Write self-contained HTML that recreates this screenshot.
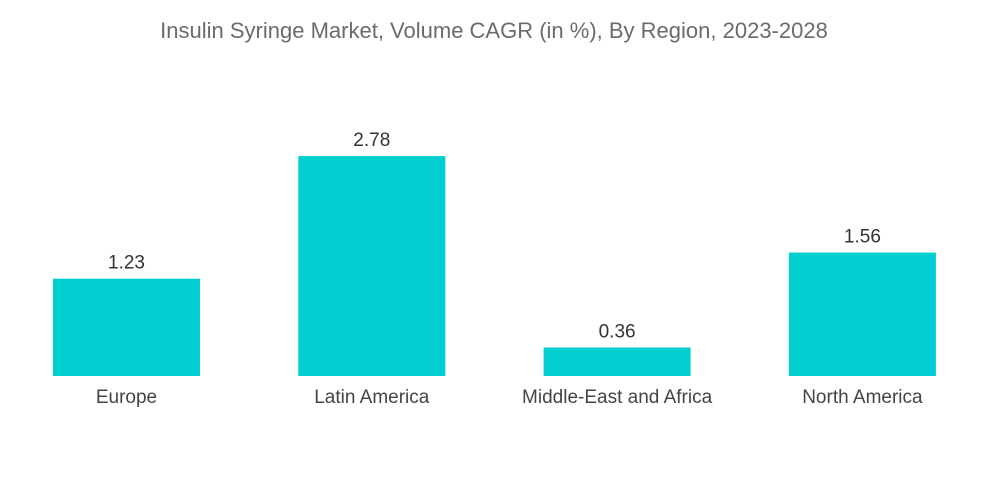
<!DOCTYPE html>
<html><head><meta charset="utf-8"><style>
html,body{margin:0;padding:0;background:#fff;}
svg{display:block;font-family:"Liberation Sans",sans-serif;}
</style></head><body>
<svg id="chart" width="1000" height="504">
<text x="494" y="38" text-anchor="middle" font-size="22" fill="#6b6b6b">Insulin Syringe Market, Volume CAGR (in %), By Region, 2023-2028</text>
<g id="bars"></g>
</svg>
<script>
const categories = ["Europe","Latin America","Middle-East and Africa","North America"];
const values = [1.23, 2.78, 0.36, 1.56];
const valueLabels = ["1.23","2.78","0.36","1.56"];
const baseY = 376, pxPerUnit = 79.1, firstX = 53, step = 245.3, barW = 147;
const yScale = v => baseY - v * pxPerUnit;
const xScale = i => firstX + i * step;
const g = document.getElementById('bars');
const ns = 'http://www.w3.org/2000/svg';
categories.forEach((c, i) => {
  const x = xScale(i), y = yScale(values[i]);
  const r = document.createElementNS(ns, 'rect');
  r.setAttribute('x', x); r.setAttribute('y', y);
  r.setAttribute('width', barW); r.setAttribute('height', baseY - y);
  r.setAttribute('fill', '#00ced1');
  
  
  g.appendChild(r);
  const t = document.createElementNS(ns, 'text');
  t.setAttribute('x', x + barW / 2); t.setAttribute('y', y - 10);
  t.setAttribute('text-anchor', 'middle'); t.setAttribute('font-size', '19');
  t.setAttribute('fill', '#333');
  t.textContent = valueLabels[i];
  
  
  g.appendChild(t);
  const l = document.createElementNS(ns, 'text');
  l.setAttribute('x', x + barW / 2); l.setAttribute('y', 403);
  l.setAttribute('text-anchor', 'middle'); l.setAttribute('font-size', '19');
  l.setAttribute('fill', '#444');
  l.textContent = c;
  
  
  g.appendChild(l);
});
</script>
</body></html>
